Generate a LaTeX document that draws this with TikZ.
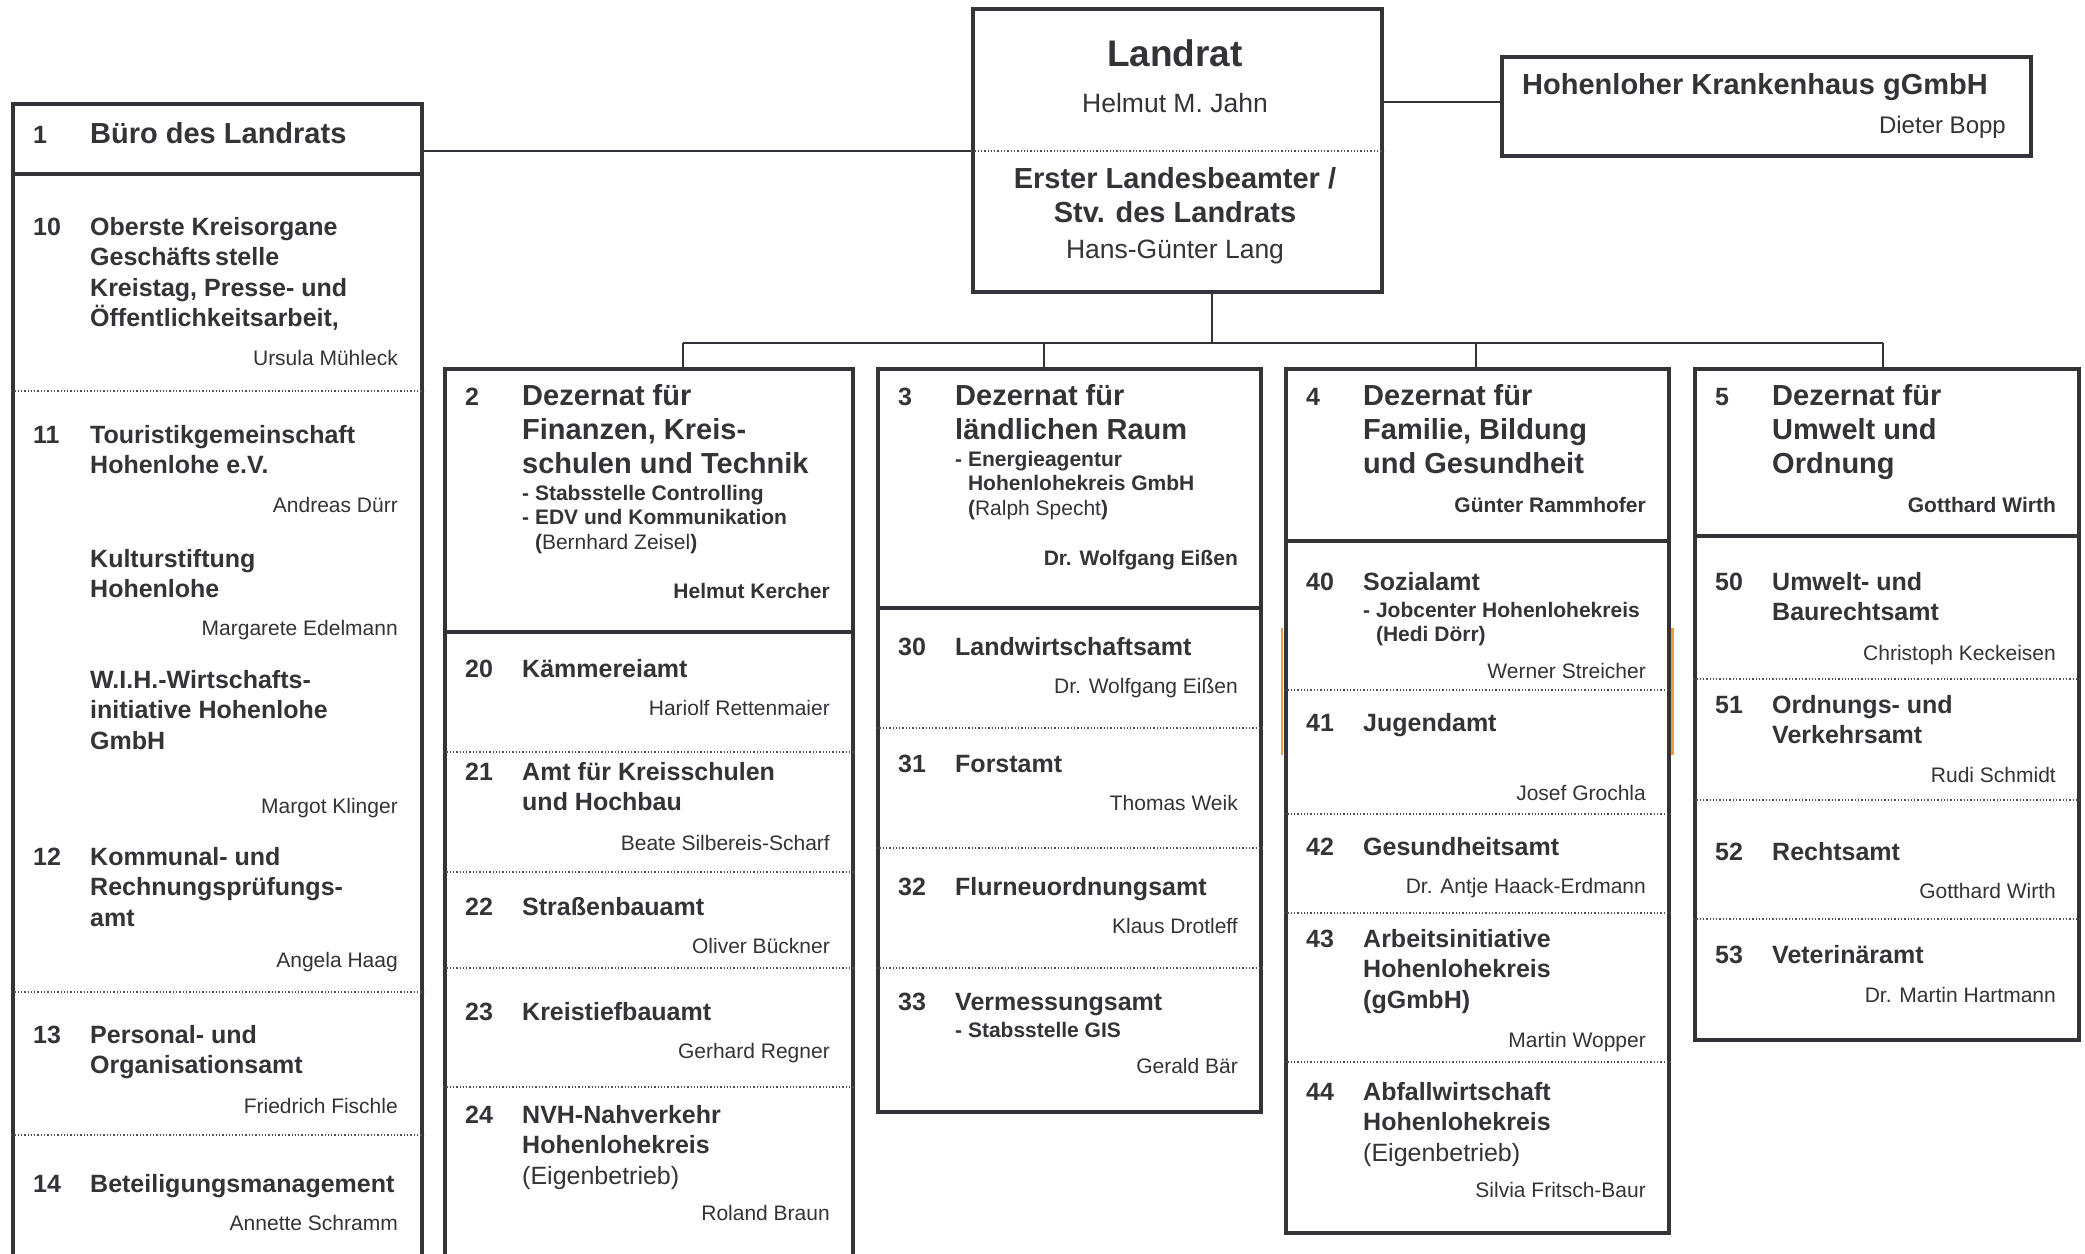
\documentclass[tikz,border=0pt]{standalone}
\usepackage{fontspec}
\setmainfont{Liberation Sans}
\definecolor{ink}{HTML}{333338}
\definecolor{markorange}{HTML}{F29B3C}
\newcommand\fTop{\fontsize{37}{42}\selectfont\bfseries}
\newcommand\fHead{\fontsize{29}{34}\selectfont\bfseries}
\newcommand\fTitle{\fontsize{25}{30.5}\selectfont\bfseries}
\newcommand\fSub{\fontsize{21}{24.5}\selectfont\bfseries}
\newcommand\fName{\fontsize{21}{25}\selectfont}
\newcommand\fBig{\fontsize{26.5}{31}\selectfont}
% first line carries the baseline
\newcommand\lines[1]{\begin{tabular}[t]{@{}l@{}}#1\end{tabular}}
\newcommand\clines[1]{\begin{tabular}[t]{@{}c@{}}#1\end{tabular}}

\tikzset{
  box/.style={draw=ink, line width=3.5pt, inner sep=0pt, anchor=north west},
  link/.style={draw=ink, line width=1.8pt},
  divider/.style={draw=ink, line width=3.5pt},
  dotline/.style={draw=ink!85, line width=1.3pt, dotted},
  num/.style={anchor=base west, inner sep=0pt, font=\fTitle, text=ink},
  ttl/.style={anchor=base west, inner sep=0pt, font=\fTitle, text=ink},
  dzhead/.style={ttl, font=\fHead},
  subl/.style={ttl, font=\fSub},
  who/.style={anchor=base east, inner sep=0pt, font=\fName, text=ink},
  chief/.style={who, font={\fName\bfseries}},
  centred/.style={anchor=base, inner sep=0pt, text=ink},
}

\begin{document}
\begin{tikzpicture}[x=1pt,y=-1pt]
\useasboundingbox (0,0) rectangle (2085,1253);
\clip (0,0) rectangle (2085,1253);
\fill[white] (0,0) rectangle (2085,1253);

% boxes
\node[box, minimum width=409pt, minimum height=283pt] (lr) at (971,7) {};
\node[box, minimum width=529pt, minimum height=99pt] (kh) at (1500,55) {};
\node[box, minimum width=409pt, minimum height=1220pt] (lc) at (11,102) {};
\node[box, minimum width=408pt, minimum height=950pt] (d2) at (443,367) {};
\node[box, minimum width=383pt, minimum height=743pt] (d3) at (876,367) {};
\node[box, minimum width=383pt, minimum height=864pt] (d4) at (1284,367) {};
\node[box, minimum width=384pt, minimum height=671pt] (d5) at (1693,367) {};

% solid dividers
\draw[divider] (lc.west |- 0,174) -- (lc.east |- 0,174);
\draw[divider] (d2.west |- 0,632) -- (d2.east |- 0,632);
\draw[divider] (d3.west |- 0,608) -- (d3.east |- 0,608);
\draw[divider] (d4.west |- 0,541) -- (d4.east |- 0,541);
\draw[divider] (d5.west |- 0,536) -- (d5.east |- 0,536);
\draw[dotline] (lr.west |- 0,151) -- (lr.east |- 0,151);

% connectors
\draw[link] (lc.east |- 0,151) -- (lr.west |- 0,151);
\draw[link] (lr.east |- 0,102) -- (kh.west |- 0,102);
\coordinate (bus) at (1212,343);
\draw[link] (bus |- lr.south) -- (bus);
\coordinate (j2) at (683,343);
\coordinate (j3) at (1044,343);
\coordinate (j4) at (1476,343);
\coordinate (j5) at (1883,343);
\draw[link] (j2) -- (j5);
\foreach \jj/\dd in {j2/d2,j3/d3,j4/d4,j5/d5}
  \draw[link] (\jj) -- (\jj |- \dd.north);

% Landrat
\node[centred, font=\fTop] (lrt) at (1175,66) {Landrat};
\node[centred, font=\fBig] (lrn) at (1175,112) {Helmut M. Jahn};
\node[centred, font=\fHead] (elt) at (1175,188) {\clines{Erster Landesbeamter /\\Stv. des Landrats}};
\node[centred, font=\fBig] (eln) at (1175,258) {Hans-Günter Lang};

% Krankenhaus
\node[dzhead] (kht) at (1522,94) {Hohenloher Krankenhaus gGmbH};
\node[who, font=\fontsize{24}{28}\selectfont] (khn) at (2006,133) {Dieter Bopp};

% left column
\node[num] (n1) at (33,143) {1};
\node[dzhead] (t1) at (90,143) {Büro des Landrats};
\foreach \k/\y/\txt/\pers/\py in {
  10/235/{Oberste Kreisorgane\\Geschäfts\,stelle\\Kreistag, Presse- und\\Öffentlichkeitsarbeit,}/{Ursula Mühleck}/365,
  11/443/{Touristikgemeinschaft\\Hohenlohe e.V.}/{Andreas Dürr}/512,
  12/865/{Kommunal- und\\Rechnungsprüfungs-\\amt}/{Angela Haag}/967,
  13/1043/{Personal- und\\Organisationsamt}/{Friedrich Fischle}/1113,
  14/1192/{Beteiligungsmanagement}/{Annette Schramm}/1230}
{
  \node[num] (n\k) at (33,\y) {\k};
  \node[ttl] (t\k) at (90,\y) {\lines{\txt}};
  \node[who] (w\k) at (398,\py) {\pers};
}
\node[ttl] (t11b) at (90,567) {\lines{Kulturstiftung\\Hohenlohe}};
\node[who] (w11b) at (398,635) {Margarete Edelmann};
\node[ttl] (t11c) at (90,688) {\lines{W.I.H.-Wirtschafts-\\initiative Hohenlohe\\GmbH}};
\node[who] (w11c) at (398,813) {Margot Klinger};
\foreach \yy in {391,992,1135}
  \draw[dotline] (lc.west |- 0,\yy) -- (lc.east |- 0,\yy);

% Dezernat 2
\node[num] (n2) at (465,405) {2};
\node[dzhead] (t2) at (522,405) {\lines{Dezernat für\\Finanzen, Kreis-\\schulen und Technik}};
\node[subl] (s2) at (522,500) {\lines{- Stabsstelle Controlling\\- EDV und Kommunikation\\\hphantom{- }({\mdseries Bernhard Zeisel})}};
\node[chief] (c2) at (830,598) {Helmut Kercher};
\foreach \k/\y/\txt/\pers/\py in {
  20/677/{Kämmereiamt}/{Hariolf Rettenmaier}/715,
  21/780/{Amt für Kreisschulen\\und Hochbau}/{Beate Silbereis-Scharf}/850,
  22/915/{Straßenbauamt}/{Oliver Bückner}/953,
  23/1020/{Kreistiefbauamt}/{Gerhard Regner}/1058,
  24/1123/{NVH-Nahverkehr\\Hohenlohekreis\\\mdseries (Eigenbetrieb)}/{Roland Braun}/1220}
{
  \node[num] (n\k) at (465,\y) {\k};
  \node[ttl] (t\k) at (522,\y) {\lines{\txt}};
  \node[who] (w\k) at (830,\py) {\pers};
}
\foreach \yy in {752,872,968,1087}
  \draw[dotline] (d2.west |- 0,\yy) -- (d2.east |- 0,\yy);

% Dezernat 3
\node[num] (n3) at (898,405) {3};
\node[dzhead] (t3) at (955,405) {\lines{Dezernat für\\ländlichen Raum}};
\node[subl] (s3) at (955,466) {\lines{- Energieagentur\\\hphantom{- }Hohenlohekreis GmbH\\\hphantom{- }({\mdseries Ralph Specht})}};
\node[chief] (c3) at (1238,565) {Dr. Wolfgang Eißen};
\foreach \k/\y/\txt/\pers/\py in {
  30/655/{Landwirtschaftsamt}/{Dr. Wolfgang Eißen}/693,
  31/772/{Forstamt}/{Thomas Weik}/810,
  32/895/{Flurneuordnungsamt}/{Klaus Drotleff}/933,
  33/1010/{Vermessungsamt}/{Gerald Bär}/1073}
{
  \node[num] (n\k) at (898,\y) {\k};
  \node[ttl] (t\k) at (955,\y) {\lines{\txt}};
  \node[who] (w\k) at (1238,\py) {\pers};
}
\node[subl] (s33) at (955,1037) {- Stabsstelle GIS};
\foreach \yy in {728,848,968}
  \draw[dotline] (d3.west |- 0,\yy) -- (d3.east |- 0,\yy);

% Dezernat 4
\node[num] (n4) at (1306,405) {4};
\node[dzhead] (t4) at (1363,405) {\lines{Dezernat für\\Familie, Bildung\\und Gesundheit}};
\node[chief] (c4) at (1646,512) {Günter Rammhofer};
\foreach \k/\y/\txt/\pers/\py in {
  40/590/{Sozialamt}/{Werner Streicher}/678,
  41/731/{Jugendamt}/{Josef Grochla}/800,
  42/855/{Gesundheitsamt}/{Dr. Antje Haack-Erdmann}/893,
  43/947/{Arbeitsinitiative\\Hohenlohekreis\\(gGmbH)}/{Martin Wopper}/1047,
  44/1100/{Abfallwirtschaft\\Hohenlohekreis\\\mdseries (Eigenbetrieb)}/{Silvia Fritsch-Baur}/1197}
{
  \node[num] (n\k) at (1306,\y) {\k};
  \node[ttl] (t\k) at (1363,\y) {\lines{\txt}};
  \node[who] (w\k) at (1646,\py) {\pers};
}
\node[subl] (s40) at (1363,617) {\lines{- Jobcenter Hohenlohekreis\\\hphantom{- }(Hedi Dörr)}};
\foreach \yy in {690,814,913,1062}
  \draw[dotline] (d4.west |- 0,\yy) -- (d4.east |- 0,\yy);
\draw[markorange, line width=2.5pt] (d4.west |- 0,628) ++(-2,0) -- ++(0,127);
\draw[markorange, line width=2.5pt] (d4.east |- 0,628) ++(2,0) -- ++(0,127);

% Dezernat 5
\node[num] (n5) at (1715,405) {5};
\node[dzhead] (t5) at (1772,405) {\lines{Dezernat für\\Umwelt und\\Ordnung}};
\node[chief] (c5) at (2056,512) {Gotthard Wirth};
\foreach \k/\y/\txt/\pers/\py in {
  50/590/{Umwelt- und\\Baurechtsamt}/{Christoph Keckeisen}/660,
  51/713/{Ordnungs- und\\Verkehrsamt}/{Rudi Schmidt}/782,
  52/860/{Rechtsamt}/{Gotthard Wirth}/898,
  53/963/{Veterinäramt}/{Dr. Martin Hartmann}/1002}
{
  \node[num] (n\k) at (1715,\y) {\k};
  \node[ttl] (t\k) at (1772,\y) {\lines{\txt}};
  \node[who] (w\k) at (2056,\py) {\pers};
}
\foreach \yy in {679,800,919}
  \draw[dotline] (d5.west |- 0,\yy) -- (d5.east |- 0,\yy);
\end{tikzpicture}
\end{document}
